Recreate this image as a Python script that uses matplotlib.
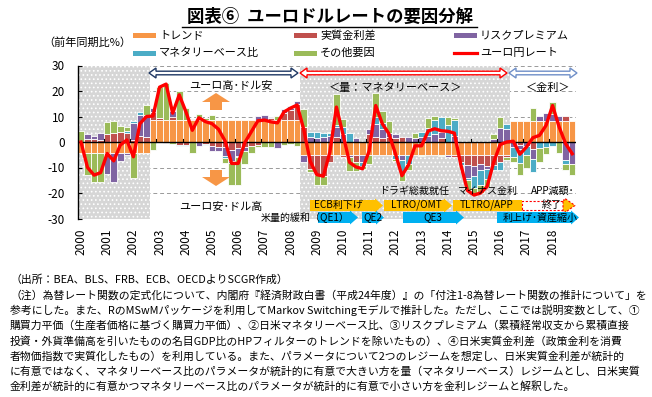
import numpy as np
import matplotlib
matplotlib.use('Agg')
import matplotlib.pyplot as plt
from matplotlib.patches import Polygon, Rectangle
from matplotlib.lines import Line2D

plt.rcParams['font.family'] = ['Noto Sans CJK JP', 'DejaVu Sans']
plt.rcParams['axes.unicode_minus'] = False
plt.rcParams['hatch.linewidth'] = 0.7

W, H = 652, 397

# quarterly data 2000Q1 - 2018Q4 (前年同期比, %)
year_labels = ['2000', '2001', '2002', '2003', '2004', '2005', '2006', '2007', '2008', '2009',
               '2010', '2011', '2012', '2013', '2014', '2015', '2016', '2017', '2018']

rate = [0, -10, -13, -12, -4.5, -7.4, -1.2, 0.8, -5.8, 7.2,
        10, 10.2, 21.5, 22.7, 11.3, 18.5, 12, 4.6, 9.5, 8,
        7.2, 5, 0.4, -8.4, -8.4, -0.3, 4, 8.3, 8.6, 7.9,
        7.5, 11.8, 13.3, 14.5, 5, -7.6, -12.8, -13.4, -4, 13.7,
        3, -8, -9.8, -10.5, -3.5, 14.3, 7.2, 3.3, -4.5, -13.2,
        -9, -1.5, -1.5, 4.3, 5.2, 4.4, 4.2, 3.5, -9, -19,
        -20.8, -20, -17.5, -8, -1, 0, 0.3, -4.8, -2, 1.7,
        2.6, 6.5, 14.3, 5.9, -0.7, -4.6]

trend = [-4.5, -4.5, -4.5, -4.5, -4.5, -4.5, -4.5, -4.5, -4.5, -4.5,
         -4.5, 8.5, 8.5, 8.5, 8.5, 8.5, 8.5, 8.5, 8.5, 8.5,
         8.5, 8.5, 8.5, 8.5, 8.5, 8.5, 8.5, 8.5, 8.5, 8.5,
         8.5, 8.5, 8.5, 8.5, -5, -5, -5, -5, -5, -5,
         -5, -5, -5, -5, -5, -5, -5, -5, -5, -5,
         -5, -5, -5, -5, -5, -5, -5, -5, -5, -5,
         -5, -5, -5, -5, -5, -5, 8.3, 8.3, 8.3, 8.3,
         8.3, 8.3, 8.3, 8.3, 8.3, 8.3]

real_diff = [0, 1.0, 1.2, 0.8, 3.0, 3.5, 4.0, 3.7, 0.8, 2.5,
             2.0, 3.2, 1.0, 0, 1.5, -1.0, -1.0, 0.5, 0, -0.8,
             -1.7, -2.0, -2.0, -3.0, -2.5, -2.0, -1.5, -1.0, 0, 0.8,
             0, 3.0, 4.0, 6.5, 6.0, -5.5, -8.0, -8.5, -3.0, 2.0,
             -1.0, 0, -3.0, 0, 3.0, 2.0, 1.5, 2.0, 1.5, 2.0,
             0, 0, 0, 0, 0, 1.5, 0, -1.0, -3.0, -4.0,
             -4.5, -3.5, -4.5, -4.0, -3.0, -1.0, 0, -1.0, 0, -2.6,
             0, 0, 0, 0, 2.0, 0]

risk = [0, 2.0, 1.3, 2.7, -8.0, -11.0, -3.0, -0.5, 6.5, 8.0,
        8.5, 1.5, 0, -0.5, 2.0, 0, 0, 0, -1.5, 0,
        -1.8, -1.5, -3.5, -4.5, -3.0, -1.5, 0, 1.8, 2.1, 0.6,
        -2.5, 1.3, 1.0, 1.0, -3.0, 2.0, 1.5, 2.0, 2.5, 4.0,
        3.0, -1.0, 1.5, -3.0, 2.0, 5.0, 3.5, 1.5, 1.5, -2.0,
        2.0, 1.5, 2.0, 2.5, 3.0, 2.5, -0.8, 2.5, 0, -5.0,
        -4.0, -2.5, -1.0, 1.0, 5.5, 5.0, -2.0, -1.6, -1.5, -4.0,
        2.0, 3.0, 2.5, 2.0, -7.0, -8.5]

mb_ratio = [0, 0, 0, 0, 0, 0, 0, 0.8, 1.0, 1.2,
            0, 0, 0, 0, 0, -0.6, -0.5, 0, 0, -0.5,
            0, 0, -0.6, -0.6, -0.4, 0, 0, 0, 0, 0,
            0, 0, 0.5, 0, 0, 2.0, 2.5, 1.5, 1.0, 0.5,
            3.0, 3.5, 0, -1.5, 0, 3.0, 2.5, 0, -1.5, -5.0,
            -3.5, 0, 2.0, 3.0, 5.5, 6.0, 6.5, 6.0, -1.0, -1.0,
            -4.5, -6.0, -4.0, -2.0, -3.0, 2.0, -4.0, -5.5, -3.5, -5.0,
            -2.5, -2.0, -1.5, 0, -1.5, 0]

other = [4.5, -8.5, -11.0, -11.0, 5.0, 4.6, 2.3, 1.3, -9.6, 0,
         4.0, -3.0, 12.0, 14.7, -0.7, 11.6, 5.0, -4.4, 2.5, 0.8,
         2.2, 0, -2.0, -8.8, -11.0, -5.3, -3.0, -1.0, -2.0, -2.0,
         1.5, -1.0, -0.7, -1.5, 7.0, -1.1, -3.8, -3.4, 0.5, 12.2,
         3.0, -5.5, -3.3, -1.0, -3.5, 9.3, 4.7, 4.8, -1.0, -3.2,
         -2.5, 2.0, -0.5, 3.8, 1.7, -0.6, 3.5, 1.0, 0, -4.0,
         -2.8, -3.0, -3.0, 2.0, 4.5, -1.0, -2.0, -5.0, -5.3, 5.0,
         -5.2, -2.8, 5.0, -4.4, -2.5, -4.4]

series_names = ['トレンド', '実質金利差', 'リスクプレミアム', 'マネタリーベース比', 'その他要因']
series_colors = ['#F79646', '#C0504D', '#8064A2', '#4BACC6', '#9BBB59']

notes = [
    '（出所：BEA、BLS、FRB、ECB、OECDよりSCGR作成）',
    '（注）為替レート関数の定式化について、内閣府『経済財政白書（平成24年度）』の「付注1-8為替レート関数の推計について」を',
    '参考にした。また、RのMSwMパッケージを利用してMarkov Switchingモデルで推計した。ただし、ここでは説明変数として、①',
    '購買力平価（生産者価格に基づく購買力平価）、②日米マネタリーベース比、③リスクプレミアム（累積経常収支から累積直接',
    '投資・外貨準備高を引いたものの名目GDP比のHPフィルターのトレンドを除いたもの）、④日米実質金利差（政策金利を消費',
    '者物価指数で実質化したもの）を利用している。また、パラメータについて2つのレジームを想定し、日米実質金利差が統計的',
    'に有意ではなく、マネタリーベース比のパラメータが統計的に有意で大きい方を量（マネタリーベース）レジームとし、日米実質',
    '金利差が統計的に有意かつマネタリーベース比のパラメータが統計的に有意で小さい方を金利レジームと解釈した。',
]


def fx(px):
    return px / W


def fy(py):
    return 1 - py / H


fig = plt.figure(figsize=(6.52, 3.97), dpi=100)
ax = fig.add_axes([fx(77.7), fy(218.5), (575.5 - 77.7) / W, (218.5 - 65.5) / H])

x = np.arange(len(rate))
ax.set_xlim(-0.5, len(rate) - 0.5)
ax.set_ylim(-30, 30)


# pixel -> data helpers for the drawn annotations
def dx(px):
    return -0.5 + (px - 77.7) / 6.55


def dy(py):
    return (142 - py) / 2.55


# grid, regime shading
for g in [30, 20, 10, -10, -20, -30]:
    ax.axhline(g, color='#9A9A9A', lw=0.7, ls=(0, (4, 3)), zorder=0.2)
for a, b in [(-0.5, 10.5), (33.5, 65.5)]:
    ax.axvspan(a, b, facecolor='#D6D6D6', edgecolor='white', hatch='....', lw=0, zorder=0.5)

# stacked bars (positive and negative stacked separately)
pos_base = np.zeros(len(x))
neg_base = np.zeros(len(x))
for vals, c in zip([trend, real_diff, risk, mb_ratio, other], series_colors):
    v = np.array(vals, dtype=float)
    for part, base in [(np.where(v > 0, v, 0), pos_base), (np.where(v < 0, v, 0), neg_base)]:
        m = part != 0
        ax.bar(x[m], part[m], bottom=base[m], width=1.0, color=c,
               edgecolor='white', linewidth=0.6, zorder=2)
        base += part

ax.axhline(0, color='black', lw=1.0, zorder=3)
for k in range(1, len(year_labels)):
    ax.plot([4 * k - 0.5, 4 * k - 0.5], [0, 1.2], color='black', lw=0.8, zorder=3)

ax.plot(x, rate, color='#FF0000', lw=2.4, zorder=5, solid_joinstyle='round')

# axes styling
for s in ['top', 'right', 'bottom']:
    ax.spines[s].set_visible(False)
ax.spines['left'].set_color('black')
ax.spines['left'].set_linewidth(1.0)
ax.set_yticks([30, 20, 10, 0, -10, -20, -30])
ax.tick_params(axis='y', direction='in', length=3, pad=9, labelsize=8.5)
ax.set_xticks(x[::4])
ax.set_xticklabels(year_labels, rotation=90, fontsize=8.5)
ax.tick_params(axis='x', length=0, pad=7)


def poly(pts, **kw):
    ax.add_patch(Polygon([(dx(a), dy(b)) for a, b in pts], closed=True, clip_on=False, **kw))


def double_arrow(x0, x1, yc, color):
    hl, hh, bh = 7, 5, 1.8
    pts = [(x0, yc), (x0 + hl, yc - hh), (x0 + hl, yc - bh), (x1 - hl, yc - bh),
           (x1 - hl, yc - hh), (x1, yc), (x1 - hl, yc + hh), (x1 - hl, yc + bh),
           (x0 + hl, yc + bh), (x0 + hl, yc + hh)]
    poly(pts, facecolor='white', edgecolor=color, lw=1.0, zorder=6)


def tag_arrow(x0, x1, y0, y1, color, tip=8, **kw):
    ym = (y0 + y1) / 2
    pts = [(x0, y0), (x1 - tip, y0), (x1 - tip, y0 - 1.5), (x1, ym),
           (x1 - tip, y1 + 1.5), (x1 - tip, y1), (x0, y1)]
    poly(pts, facecolor=color, zorder=6, **kw)


double_arrow(149, 298, 73, '#1F3864')
double_arrow(300, 507, 73, '#FF0000')
double_arrow(509, 577, 73, '#6F8FC8')

# orange up / down block arrows
poly([(202, 102), (216, 93), (230, 102), (222, 102), (222, 110), (210, 110), (210, 102)],
     facecolor='#F79646', edgecolor='none', zorder=6)
poly([(210, 170), (222, 170), (222, 177), (230, 177), (216, 186), (202, 177), (210, 177)],
     facecolor='#F79646', edgecolor='none', zorder=6)

# policy arrows
gold = '#FFC000'
blue = '#00B0F0'
tag_arrow(310, 383, 200, 211, gold)
tag_arrow(384, 452, 200, 211, gold)
tag_arrow(453, 522, 200, 211, gold, tip=0.01)
ax.add_patch(Rectangle((dx(522), dy(210)), dx(563) - dx(522), dy(201) - dy(210),
                       facecolor='none', edgecolor='#FF0000', ls=(0, (2, 1.5)), lw=0.8,
                       zorder=6, clip_on=False))
tag_arrow(563, 575, 200, 211, gold, tip=10, edgecolor='#FF0000', ls=(0, (2, 1.5)), lw=0.8)
tag_arrow(318, 358, 212, 223, blue)
tag_arrow(362, 384, 212, 223, blue)
tag_arrow(403, 464, 212, 223, blue)
tag_arrow(497, 579, 212, 223, blue)

# texts inside the chart
txts = [
    ('ユーロ高･ドル安', 231, 86, 8), ('＜量：マネタリーベース＞', 396, 88, 8), ('＜金利＞', 548, 88, 8),
    ('ユーロ安･ドル高', 221, 207, 8), ('ドラギ総裁就任', 414, 191, 7.2), ('マイナス金利', 488, 191, 7.2),
    ('APP減額･', 553, 191, 7.2), ('終了', 552, 205, 7.2), ('ECB利下げ', 338, 205, 7.2),
    ('LTRO/OMT', 416, 205, 7.2), ('TLTRO/APP', 487, 205, 7.2), ('米量的緩和（QE1）', 305, 217.5, 7.2),
    ('QE2', 373, 217.5, 7.2), ('QE3', 433, 217, 7.2), ('利上げ･資産縮小', 540, 218, 7.2),
]
for s, px, py, fs in txts:
    fig.text(fx(px), fy(py), s, ha='center', va='center', fontsize=fs, zorder=10)

# title
fig.text(fx(330), fy(17), '図表⑥  ユーロドルレートの要因分解', ha='center', va='center',
         fontsize=12.5, fontweight='bold')
fig.add_artist(Line2D([fx(182), fx(477)], [fy(26.5), fy(26.5)], color='black', lw=1.0))

fig.text(fx(87), fy(43), '（前年同期比%）', ha='center', va='center', fontsize=8)

# legend drawn by hand
leg_pos = [(133, 35), (294, 35), (454, 35), (133, 53), (294, 53)]
for name, c, (px, py) in zip(series_names, series_colors, leg_pos):
    fig.add_artist(Rectangle((fx(px), fy(py + 2.5)), 23 / W, 5 / H, transform=fig.transFigure,
                             facecolor=c, edgecolor='none'))
    fig.text(fx(px + 26), fy(py), name, va='center', fontsize=8)
fig.add_artist(Line2D([fx(454), fx(477)], [fy(53), fy(53)], color='#FF0000', lw=2.3))
fig.text(fx(480), fy(53), 'ユーロ円レート', va='center', fontsize=8)

# notes
for i, line in enumerate(notes):
    fig.text(fx(10), fy(280 + 15.25 * i), line, va='center', fontsize=7.8)

fig.savefig('out.png', dpi=100)
